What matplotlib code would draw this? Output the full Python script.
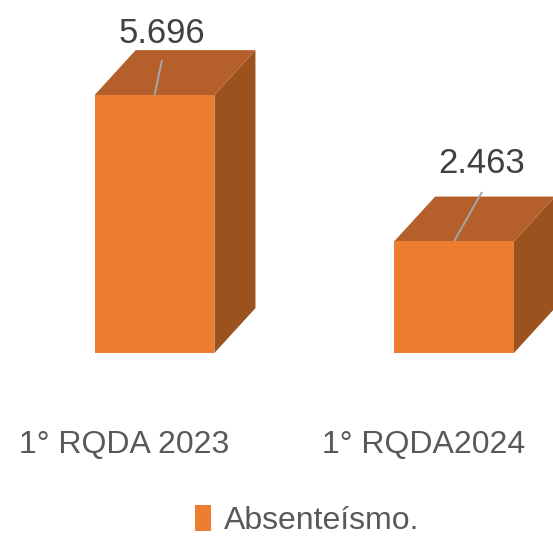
import matplotlib
matplotlib.use("Agg")
import matplotlib.pyplot as plt
from matplotlib.patches import Polygon, Patch

# data
categories = ["1° RQDA 2023", "1° RQDA2024"]
values = [5.696, 2.463]
value_labels = ["5.696", "2.463"]
series_name = "Absenteísmo."

# style
FRONT = "#ED7D31"
TOP = "#B5602A"
SIDE = "#9B521E"
NUM_COLOR = "#404040"
TXT_COLOR = "#595959"
FONT = "Liberation Sans"
BAR_W = 0.4          # category units
DEPTH_X = 0.137      # 3d offset, category units
DEPTH_Y = 0.99       # 3d offset, value units
LABEL_DX = [0.025, 0.0935]
LABEL_DY = [1.148, 1.511]
LEADER_DY = [0.773, 1.092]

fig = plt.figure(figsize=(5.53, 5.42), dpi=100)
ax = fig.add_axes([0, 0, 1, 1])
ax.set_xlim(-0.516, 1.3306)
ax.set_ylim(-4.173, 7.793)
ax.axis("off")

for i, v in enumerate(values):
    x0, x1 = i - BAR_W / 2, i + BAR_W / 2
    front = [(x0, 0), (x1, 0), (x1, v), (x0, v)]
    top = [(x0, v), (x1, v), (x1 + DEPTH_X, v + DEPTH_Y), (x0 + DEPTH_X, v + DEPTH_Y)]
    side = [(x1, 0), (x1 + DEPTH_X, DEPTH_Y), (x1 + DEPTH_X, v + DEPTH_Y), (x1, v)]
    ax.add_patch(Polygon(side, closed=True, fc=SIDE, ec="none"))
    ax.add_patch(Polygon(top, closed=True, fc=TOP, ec="none"))
    ax.add_patch(Polygon(front, closed=True, fc=FRONT, ec="none"))

    lx = i + LABEL_DX[i]
    ax.plot([i, lx], [v, v + LEADER_DY[i]], color="#A6A6A6", lw=1.4,
            solid_capstyle="butt")
    ax.text(lx, v + LABEL_DY[i], value_labels[i], ha="center", va="baseline",
            fontsize=25, color=NUM_COLOR, family=FONT)

    ax.text(i - 0.1, -2.208, categories[i], ha="center", va="baseline",
            fontsize=23, color=TXT_COLOR, family=FONT)

handle = Patch(facecolor=FRONT, edgecolor="none")
fig.legend(handles=[handle], labels=[series_name], loc="center",
           bbox_to_anchor=(0.555, 0.04), frameon=False,
           handlelength=0.5, handleheight=0.9, handletextpad=0.4,
           prop={"family": FONT, "size": 23}, labelcolor=TXT_COLOR)

fig.savefig("out.png", dpi=100)
